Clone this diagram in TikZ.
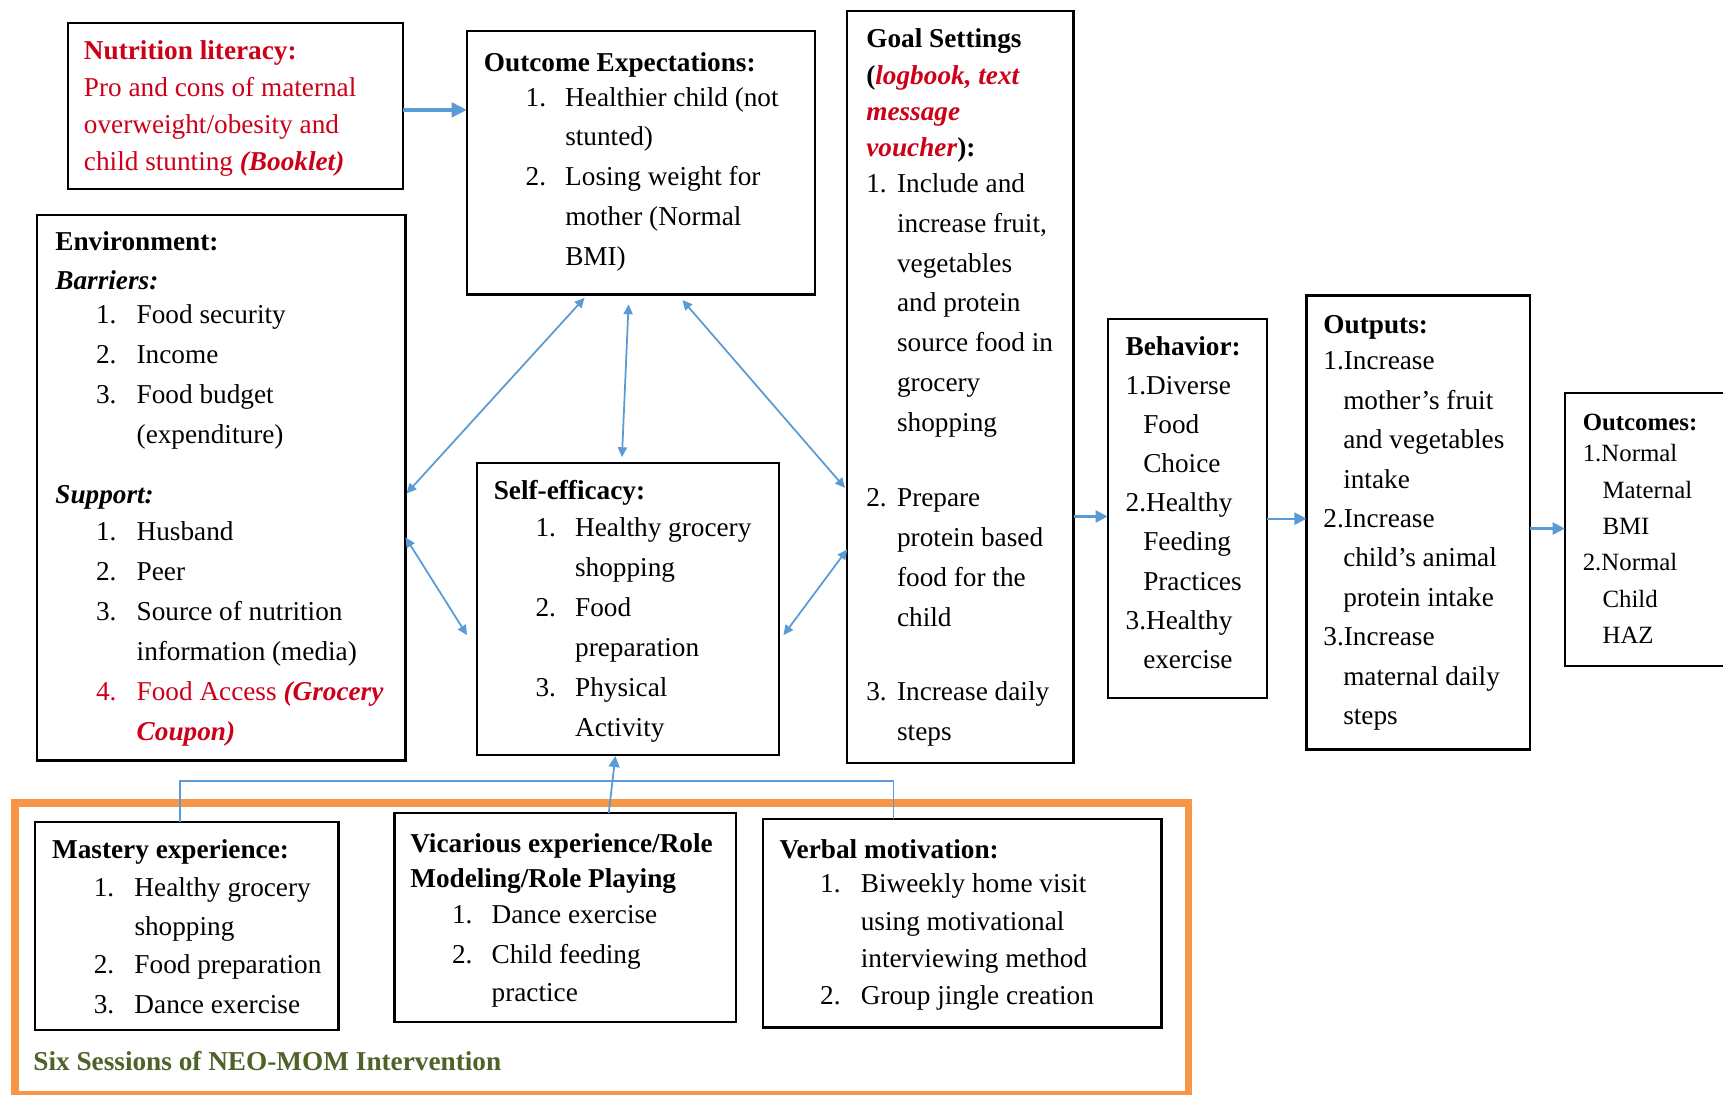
\documentclass[tikz,border=0pt]{standalone}
\usepackage{fontspec}
\setmainfont{Liberation Serif}
\usetikzlibrary{arrows.meta,calc}
\newdimen\pxu \pxu=0.5pt
\newcommand\hind[1]{\hspace*{#1\pxu}}
\newcommand\lnum[2]{\makebox[#1\pxu][l]{#2}}
\newcommand\fstr{\rule{0pt}{12pt}}
\definecolor{nred}{RGB}{204,0,24}
\definecolor{nblue}{RGB}{91,155,213}
\definecolor{norange}{RGB}{247,150,70}
\definecolor{ngreen}{RGB}{79,98,40}
\begin{document}
\begin{tikzpicture}[x=0.5pt,y=-0.5pt,
  box/.style={draw=black, line width=1pt, inner sep=0pt, outer sep=0pt, anchor=north west},
  txt/.style={anchor=north west, inner sep=0pt, align=left, font=\fontsize{12.4pt}{18.15pt}\selectfont},
  diag/.style={draw=nblue, line width=0.8pt, {Triangle[length=4.5pt,width=4.2pt]}-{Triangle[length=4.5pt,width=4.2pt]}},
  harr/.style={draw=nblue, line width=1pt, -{Triangle[length=5.5pt,width=5.5pt]}},
  thin/.style={draw=nblue, line width=0.8pt}
]
\useasboundingbox (0,0) rectangle (1568,996);
\clip (0,0) rectangle (1568,996);

% group frame
\node[draw=norange, line width=3.5pt, inner sep=0pt, anchor=north west,
  minimum width=534pt, minimum height=133pt] (grp) at (10,727) {};
\node[anchor=base west, inner sep=0pt, font=\fontsize{12.4pt}{18pt}\selectfont\bfseries, text=ngreen]
  (six) at (30,974) {Six Sessions of NEO-MOM Intervention};

% boxes
\node[box, minimum width=152.5pt, minimum height=75.5pt] (nut) at (62,21) {};
\node[box, minimum width=158.5pt, minimum height=120pt] (oe) at (425,28) {};
\node[box, minimum width=103pt, minimum height=342pt] (goal) at (771,10) {};
\node[box, minimum width=167.5pt, minimum height=248pt] (env) at (34,196) {};
\node[box, minimum width=137.5pt, minimum height=133pt] (se) at (434,421) {};
\node[box, minimum width=72.5pt, minimum height=172.5pt] (beh) at (1008,290) {};
\node[box, minimum width=101.5pt, minimum height=206.5pt] (out) at (1189,269) {};
\node[box, minimum width=108pt, minimum height=124pt] (ocm) at (1424,358) {};
\node[box, minimum width=138pt, minimum height=94.5pt] (mast) at (32,748) {};
\node[box, minimum width=155.5pt, minimum height=95pt] (vic) at (359,740) {};
\node[box, minimum width=181.5pt, minimum height=95pt] (verb) at (694,745) {};

% texts
\node[txt, text=nred] (nut-t) at (76,30) {\fstr\textbf{Nutrition literacy:}\\[-1.3pt]
Pro and cons of maternal\\[-1.3pt]
overweight/obesity and\\[-1.3pt]
child stunting \textbf{\textit{(Booklet)}}};

\node[txt] (oe-t) at (440,41) {\fstr\textbf{Outcome Expectations:}\\[-2.6pt]
\hind{38}\lnum{36}{1.}Healthier child (not\\
\hind{74}stunted)\\
\hind{38}\lnum{36}{2.}Losing weight for\\
\hind{74}mother (Normal\\
\hind{74}BMI)};

\node[txt] (goal-t) at (788,19) {\fstr\textbf{Goal Settings}\\[-1.6pt]
\textbf{(\textcolor{nred}{\textit{logbook, text}}}\\[-1.6pt]
\textcolor{nred}{\textbf{\textit{message}}}\\[-1.6pt]
\textcolor{nred}{\textbf{\textit{voucher}}}\textbf{):}\\[-2pt]
\lnum{28}{1.}Include and\\
\hind{28}increase fruit,\\
\hind{28}vegetables\\
\hind{28}and protein\\
\hind{28}source food in\\
\hind{28}grocery\\
\hind{28}shopping\\[15.85pt]
\lnum{28}{2.}Prepare\\
\hind{28}protein based\\
\hind{28}food for the\\
\hind{28}child\\[15.85pt]
\lnum{28}{3.}Increase daily\\
\hind{28}steps};

\node[txt] (env-t) at (50,204) {\fstr\textbf{Environment:}\\[-0.65pt]
\textbf{\textit{Barriers:}}\\[-2.65pt]
\hind{37}\lnum{37}{1.}Food security\\
\hind{37}\lnum{37}{2.}Income\\
\hind{37}\lnum{37}{3.}Food budget\\
\hind{74}(expenditure)\\[9.35pt]
\textbf{\textit{Support:}}\\[-1.15pt]
\hind{37}\lnum{37}{1.}Husband\\
\hind{37}\lnum{37}{2.}Peer\\
\hind{37}\lnum{37}{3.}Source of nutrition\\
\hind{74}information (media)\\
\textcolor{nred}{\hind{37}\lnum{37}{4.}Food Access \textbf{\textit{(Grocery}}}\\
\hind{74}\textcolor{nred}{\textbf{\textit{Coupon)}}}};

\node[txt] (se-t) at (449,430) {\fstr\textbf{Self-efficacy:}\\[-1.15pt]
\hind{38}\lnum{36}{1.}Healthy grocery\\
\hind{74}shopping\\
\hind{38}\lnum{36}{2.}Food\\
\hind{74}preparation\\
\hind{38}\lnum{36}{3.}Physical\\
\hind{74}Activity};

\node[txt, font=\fontsize{12.4pt}{17.8pt}\selectfont] (beh-t) at (1024,299) {\fstr\textbf{Behavior:}\\
1.Diverse\\
\hind{16}Food\\
\hind{16}Choice\\
2.Healthy\\
\hind{16}Feeding\\
\hind{16}Practices\\
3.Healthy\\
\hind{16}exercise};

\node[txt, font=\fontsize{12.4pt}{17.95pt}\selectfont] (out-t) at (1204,279) {\fstr\textbf{Outputs:}\\[-1.45pt]
1.Increase\\
\hind{18}mother’s fruit\\
\hind{18}and vegetables\\
\hind{18}intake\\
2.Increase\\
\hind{18}child’s animal\\
\hind{18}protein intake\\
3.Increase\\
\hind{18}maternal daily\\
\hind{18}steps};

\node[txt, font=\fontsize{11.3pt}{16.5pt}\selectfont] (ocm-t) at (1440,367) {\fstr\textbf{Outcomes:}\\[-2pt]
1.Normal\\
\hind{18}Maternal\\
\hind{18}BMI\\
2.Normal\\
\hind{18}Child\\
\hind{18}HAZ};

\node[txt] (mast-t) at (47,757) {\fstr\textbf{Mastery experience:}\\[-1.15pt]
\hind{38}\lnum{37}{1.}Healthy grocery\\
\hind{75}shopping\\[-1pt]
\hind{38}\lnum{37}{2.}Food preparation\\
\hind{38}\lnum{37}{3.}Dance exercise};

\node[txt] (vic-t) at (373,751) {\fstr\textbf{Vicarious experience/Role}\\[-2.15pt]
\textbf{Modeling/Role Playing}\\[-1.65pt]
\hind{38}\lnum{36}{1.}Dance exercise\\
\hind{38}\lnum{36}{2.}Child feeding\\[-0.65pt]
\hind{74}practice};

\node[txt, font=\fontsize{12.4pt}{17pt}\selectfont] (verb-t) at (709,757) {\fstr\textbf{Verbal motivation:}\\[-1.5pt]
\hind{37}\lnum{37}{1.}Biweekly home visit\\
\hind{74}using motivational\\
\hind{74}interviewing method\\
\hind{37}\lnum{37}{2.}Group jingle creation};

% connectors
\draw[draw=nblue, line width=2pt, -{Triangle[length=7pt,width=6.5pt]}]
  ($(nut.north east)+(0,79)$) -- ($(oe.north west)+(0,72)$);
\draw[harr] ($(goal.north east)+(0,460)$) -- ($(beh.north west)+(0,180)$);
\draw[harr] ($(beh.north east)+(0,182)$) -- ($(out.north west)+(0,203)$);
\draw[harr] ($(out.north east)+(0,212)$) -- ($(ocm.north west)+(0,123)$);

\draw[diag] ($(env.north east)+(1,253)$) -- ($(oe.south west)+(107,3)$);
\draw[diag] ($(oe.south west)+(147,9)$) -- ($(se.north west)+(132,-5)$);
\draw[diag] ($(oe.south west)+(196,5)$) -- ($(goal.north west)+(-2,434)$);
\draw[diag] ($(env.north east)+(0,293)$) -- ($(se.north west)+(-9,157)$);
\draw[diag] ($(se.north east)+(4,157)$) -- ($(goal.north west)+(0,490)$);

\draw[thin, -{Triangle[length=5pt,width=5pt]}] ($(vic.north west)+(195,0)$) -- ($(se.south west)+(126,1)$);
\draw[thin] ($(mast.north west)+(132,0)$) |- ($(verb.north west)+(119,-34)$) -- ($(verb.north west)+(119,0)$);
\end{tikzpicture}
\end{document}
